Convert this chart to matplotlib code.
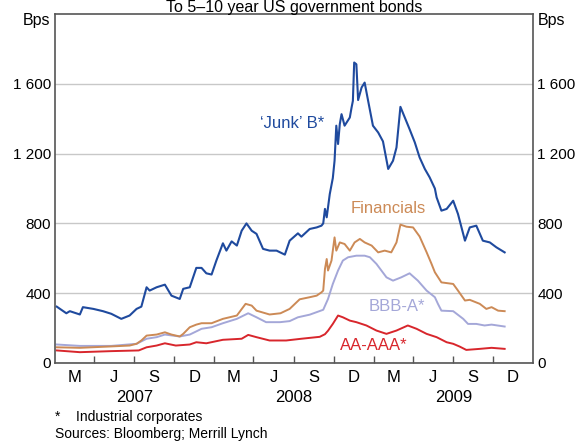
import matplotlib
matplotlib.use('Agg')
import matplotlib.pyplot as plt
import matplotlib.transforms as mtransforms
import pandas as pd

plt.rcParams['font.family'] = ['Liberation Sans', 'DejaVu Sans']

## Spread data (bps) ##
junk_dates = ['2007-02-05', '2007-02-27', '2007-03-07', '2007-03-30', '2007-04-06', '2007-04-30',
              '2007-05-22', '2007-06-10', '2007-07-03', '2007-07-22', '2007-08-07', '2007-08-18',
              '2007-08-30', '2007-09-06', '2007-09-22', '2007-10-11', '2007-10-26', '2007-11-14',
              '2007-11-22', '2007-12-07', '2007-12-22', '2008-01-03', '2008-01-14', '2008-01-26',
              '2008-02-06', '2008-02-21', '2008-02-29', '2008-03-12', '2008-03-24', '2008-04-04',
              '2008-04-15', '2008-04-27', '2008-05-08', '2008-05-23', '2008-06-07', '2008-06-23',
              '2008-07-12', '2008-07-23', '2008-08-11', '2008-08-19', '2008-09-07', '2008-09-23',
              '2008-10-04', '2008-10-08', '2008-10-12', '2008-10-16', '2008-10-19', '2008-10-23',
              '2008-10-30', '2008-11-03', '2008-11-07', '2008-11-11', '2008-11-15', '2008-11-19',
              '2008-11-26', '2008-12-08', '2008-12-12', '2008-12-15', '2008-12-18', '2008-12-23',
              '2008-12-27', '2009-01-04', '2009-01-11', '2009-01-19', '2009-01-30', '2009-02-11',
              '2009-02-22', '2009-03-06', '2009-03-17', '2009-03-25', '2009-04-03', '2009-04-13',
              '2009-04-24', '2009-05-06', '2009-05-17', '2009-05-29', '2009-06-09', '2009-06-21',
              '2009-06-25', '2009-07-06', '2009-07-18', '2009-08-02', '2009-08-13', '2009-08-29',
              '2009-09-09', '2009-09-24', '2009-10-09', '2009-10-25', '2009-11-09', '2009-11-28']
junk = [323, 285, 297, 278, 320, 310,
        297, 282, 253, 272, 310, 323,
        434, 415, 434, 449, 386, 367,
        425, 434, 545, 545, 514, 507,
        587, 686, 644, 697, 673, 758,
        800, 758, 740, 654, 644, 644,
        621, 701, 743, 724, 768, 777,
        787, 800, 883, 835, 892, 968,
        1060, 1159, 1360, 1255, 1369, 1426,
        1360, 1407, 1464, 1502, 1722, 1712,
        1507, 1579, 1607, 1502, 1360, 1321,
        1270, 1112, 1159, 1235, 1468, 1407,
        1340, 1264, 1178, 1112, 1064, 1000,
        949, 873, 883, 930, 854, 701,
        777, 787, 701, 691, 663, 634]

fin_dates = ['2007-02-05', '2007-03-30', '2007-06-10', '2007-07-22', '2007-08-07', '2007-08-18',
             '2007-08-30', '2007-09-22', '2007-10-11', '2007-10-26', '2007-11-14', '2007-11-22',
             '2007-12-07', '2007-12-22', '2008-01-03', '2008-01-26', '2008-02-21', '2008-03-24',
             '2008-04-13', '2008-04-27', '2008-05-08', '2008-06-07', '2008-07-02', '2008-07-23',
             '2008-08-15', '2008-09-07', '2008-09-23', '2008-10-04', '2008-10-08', '2008-10-12',
             '2008-10-16', '2008-10-19', '2008-10-27', '2008-11-03', '2008-11-07', '2008-11-15',
             '2008-11-26', '2008-12-08', '2008-12-19', '2008-12-31', '2009-01-11', '2009-01-27',
             '2009-02-11', '2009-02-26', '2009-03-13', '2009-03-25', '2009-04-03', '2009-04-17',
             '2009-05-02', '2009-05-17', '2009-06-02', '2009-06-13', '2009-06-21', '2009-07-06',
             '2009-08-02', '2009-08-13', '2009-08-29', '2009-09-09', '2009-10-02', '2009-10-17',
             '2009-10-29', '2009-11-13', '2009-11-28']
financials = [90, 87, 95, 100, 110, 129,
              157, 163, 176, 163, 152, 167,
              205, 220, 228, 228, 253, 272,
              339, 329, 300, 278, 285, 310,
              365, 377, 386, 405, 415, 539,
              596, 530, 587, 720, 644, 691,
              682, 644, 691, 711, 691, 673,
              634, 644, 634, 691, 793, 781,
              777, 725, 635, 570, 520, 462,
              453, 415, 358, 362, 339, 310,
              320, 300, 297]

bbb_dates = ['2007-02-05', '2007-03-30', '2007-06-10', '2007-08-07', '2007-08-30', '2007-09-22',
             '2007-10-11', '2007-11-14', '2007-12-07', '2007-12-26', '2008-01-03', '2008-01-26',
             '2008-02-21', '2008-03-24', '2008-04-19', '2008-05-08', '2008-05-30', '2008-07-01',
             '2008-07-23', '2008-08-11', '2008-09-07', '2008-10-08', '2008-10-19', '2008-10-30',
             '2008-11-11', '2008-11-22', '2008-12-04', '2008-12-23', '2009-01-11', '2009-01-23',
             '2009-02-07', '2009-03-02', '2009-03-17', '2009-04-05', '2009-04-24', '2009-05-13',
             '2009-06-02', '2009-06-21', '2009-06-28', '2009-07-06', '2009-08-02', '2009-08-25',
             '2009-09-05', '2009-09-24', '2009-10-13', '2009-10-29', '2009-11-28']
bbb_a = [106, 98, 98, 110, 139, 148,
         163, 152, 163, 186, 196, 205,
         228, 253, 285, 262, 234, 234,
         240, 262, 277, 305, 367, 453,
         530, 587, 606, 615, 615, 606,
         568, 491, 472, 491, 514, 472,
         415, 377, 339, 300, 297, 253,
         224, 224, 215, 220, 209]

aa_dates = ['2007-02-05', '2007-03-30', '2007-06-10', '2007-08-12', '2007-08-30', '2007-09-22',
            '2007-10-11', '2007-11-05', '2007-12-07', '2007-12-22', '2008-01-14', '2008-02-21',
            '2008-04-04', '2008-04-19', '2008-05-08', '2008-06-07', '2008-07-15', '2008-08-19',
            '2008-09-30', '2008-10-12', '2008-10-19', '2008-10-30', '2008-11-11', '2008-11-22',
            '2008-12-08', '2008-12-23', '2009-01-15', '2009-02-07', '2009-03-02', '2009-03-25',
            '2009-04-20', '2009-05-10', '2009-06-02', '2009-06-25', '2009-07-18', '2009-08-02',
            '2009-08-17', '2009-09-01', '2009-10-02', '2009-10-29', '2009-11-28']
aa_aaa = [72, 62, 68, 72, 90, 100,
          113, 100, 106, 119, 113, 133,
          139, 161, 148, 129, 129, 139,
          150, 165, 185, 224, 272, 262,
          243, 234, 215, 186, 167, 186,
          215, 196, 167, 148, 119, 110,
          94, 75, 81, 87, 81]

month_labels = ['M', 'J', 'S', 'D'] * 3
year_labels = ['2007', '2008', '2009']
y_ticks = [0, 400, 800, 1200, 1600]

## Colours ##
c_junk = '#1f4a9e'
c_fin = '#cc8a56'
c_bbb = '#a4a7d8'
c_aa = '#d8262c'

fig = plt.figure(figsize=(5.78, 4.42), dpi=100)
ax = fig.add_axes([55/578, 1-363/442, 478/578, 349/442])

ax.plot(pd.to_datetime(aa_dates), aa_aaa, color=c_aa, lw=1.4)
ax.plot(pd.to_datetime(bbb_dates), bbb_a, color=c_bbb, lw=1.4)
ax.plot(pd.to_datetime(fin_dates), financials, color=c_fin, lw=1.4)
ax.plot(pd.to_datetime(junk_dates), junk, color=c_junk, lw=1.5)

start = pd.Timestamp('2007-02-01')
end = pd.Timestamp('2010-02-01')
ax.set_xlim(start, end)
ax.set_ylim(0, 2000)

# y axis on both sides, grid lines
ax.set_yticks(y_ticks)
ax.set_yticklabels([f'{v:,}'.replace(',', ' ') for v in y_ticks])
ax.tick_params(axis='y', which='both', length=0, labelsize=11, pad=3,
               labelleft=True, labelright=True, left=False, right=False)
ax.grid(axis='y', color='#c8c8c8', lw=1)
ax.set_axisbelow(True)

# quarter ticks, month letters centred between them
edges = pd.date_range(start, end, freq='3MS')
ax.set_xticks(edges[1:-1])
ax.set_xticklabels([])
mids = [edges[i] + (edges[i+1] - edges[i]) / 2 for i in range(len(edges) - 1)]
ax.set_xticks(mids, minor=True)
ax.set_xticklabels(month_labels, minor=True)
ax.tick_params(axis='x', which='major', direction='in', length=5, width=1, color='#555555')
ax.tick_params(axis='x', which='minor', length=0, labelsize=12, pad=5)

trans = mtransforms.blended_transform_factory(ax.transData, ax.transAxes)
for yr in year_labels:
    a = pd.Timestamp(f'{yr}-02-01')
    b = pd.Timestamp(f'{int(yr)+1}-02-01')
    ax.text(a + (b - a) / 2, -0.098, yr, transform=trans, ha='center', va='center', fontsize=12)

for s in ax.spines.values():
    s.set_color('#555555')
    s.set_linewidth(1.2)

# series labels
ax.text(pd.Timestamp('2008-07-28'), 1374, "\u2018Junk\u2019 B*", color=c_junk, fontsize=12,
        ha='center', va='center')
ax.text(pd.Timestamp('2009-03-05'), 884, 'Financials', color=c_fin, fontsize=12,
        ha='center', va='center')
ax.text(pd.Timestamp('2009-03-26'), 323, 'BBB-A*', color=c_bbb, fontsize=12,
        ha='center', va='center')
ax.text(pd.Timestamp('2009-02-01'), 100, 'AA-AAA*', color=c_aa, fontsize=12,
        ha='center', va='center')

# units
ax.text(-0.01, 0.98, 'Bps', transform=ax.transAxes, ha='right', va='center', fontsize=11.5)
ax.text(1.01, 0.98, 'Bps', transform=ax.transAxes, ha='left', va='center', fontsize=11.5)

fig.text(294/578, 1-12/442, 'To 5\u201310 year US government bonds', ha='center', va='baseline',
         fontsize=11.5)

fig.text(55/578, 1-417/442, '*', ha='left', va='center', fontsize=10)
fig.text(76/578, 1-417/442, 'Industrial corporates', ha='left', va='center', fontsize=10)
fig.text(55/578, 1-434/442, 'Sources: Bloomberg; Merrill Lynch', ha='left', va='center', fontsize=10)

fig.savefig('out.png', dpi=100)
